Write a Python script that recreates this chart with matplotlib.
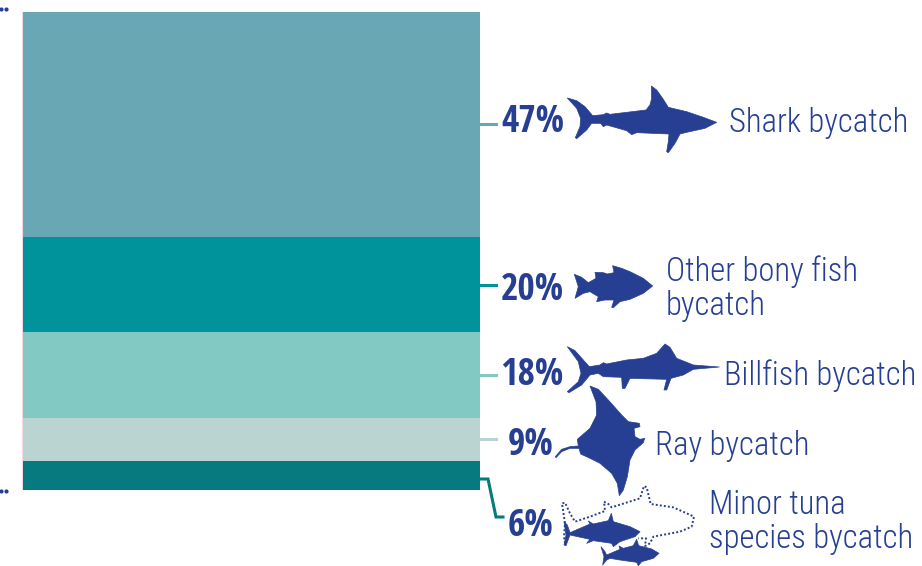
import matplotlib
matplotlib.use("Agg")
import matplotlib.pyplot as plt
from matplotlib.patches import Polygon, Rectangle
from matplotlib import font_manager as fm

W, H = 922, 566
categories = ["Shark bycatch", "Other bony fish\nbycatch", "Billfish bycatch", "Ray bycatch", "Minor tuna\nspecies bycatch"]
values = [47, 20, 18, 9, 6]
pct_labels = ["47%", "20%", "18%", "9%", "6%"]
colors = ["#6AA7B4", "#00939B", "#82C9C3", "#BAD5D1", "#077A80"]
BLUE = "#263F92"

names = {f.name for f in fm.fontManager.ttflist}
def pick(cands):
    for c in cands:
        if c in names:
            return c
    return "Roboto"
bold_font = pick(["Open Sans Condensed", "Roboto Condensed", "Fira Sans Condensed", "Encode Sans Condensed", "Barlow Condensed", "Sofia Sans Condensed", "PT Sans Narrow", "Archivo Narrow", "Liberation Sans Narrow"])
label_font = pick(["Roboto Condensed", "Fira Sans Condensed", "Encode Sans Condensed", "Sofia Sans Condensed", "IBM Plex Sans Condensed", "Barlow Semi Condensed", "Archivo Narrow", "Liberation Sans Narrow"])

fig = plt.figure(figsize=(W / 100, H / 100), dpi=100, facecolor="white")

ax = fig.add_axes([23 / W, 1 - 490 / H, (480 - 23) / W, (490 - 12) / H])
ax.set_xlim(0, 1)
ax.set_ylim(sum(values), 0)
ax.axis("off")
bottom = 0
for v, c in zip(values, colors):
    ax.bar(0.5, v, width=1, bottom=bottom, color=c, linewidth=0)
    bottom += v

ov = fig.add_axes([0, 0, 1, 1])
ov.set_xlim(0, W)
ov.set_ylim(H, 0)
ov.axis("off")
ov.patch.set_alpha(0)

ov.add_patch(Rectangle((22, 12), 1, 478, color="#F3D9E4", lw=0))
for x, y in [(1, 9), (6, 9), (1, 491), (6, 491)]:
    ov.plot([x], [y], "o", ms=3, color=BLUE, mew=0)

lead = [([480, 496], [124, 124]), ([480, 496], [285, 285]), ([480, 496], [375, 375]), ([480, 496], [439, 439]),
        ([480, 488, 496, 503], [479, 479, 517, 517])]
for (xs, ys), c in zip(lead, colors):
    ov.plot(xs, ys, color=c, lw=2.2, solid_joinstyle="miter")

pct_pos = [(501, 122), (501, 290), (500, 375), (508, 445), (508, 526)]
for t, (x, y) in zip(pct_labels, pct_pos):
    ov.text(x, y, t, family=bold_font, weight="bold", fontsize=27, color=BLUE, ha="left", va="center")

lab_pos = [(729, 123), (666, 289), (724, 376), (655, 446), (709, 522)]
for t, (x, y) in zip(categories, lab_pos):
    ov.text(x, y, t, family=label_font, weight="light", fontsize=23.5, color=BLUE, ha="left", va="center",
            linespacing=1.08)

def z(pts, x0, y0):
    return [(x0 + a / 3, y0 + b / 3) for a, b in pts]

shark = [(292,84),(320,92),(345,110),(368,137),(400,134),(410,129),(420,133),(528,120),(540,105),(545,85),(544,48),(560,60),(578,85),(595,112),(650,125),(700,142),(740,157),(705,175),(650,187),(630,192),(615,220),(595,248),(590,245),(595,215),(597,192),(500,188),(485,194),(470,182),(410,165),(400,170),(392,160),(365,160),(350,180),(320,206),(316,203),(330,170),(332,145),(320,115)]
bony = [(313,73),(335,82),(355,98),(378,85),(375,67),(400,68),(412,72),(432,68),(428,47),(455,55),(480,65),(520,85),(548,108),(520,130),(480,148),(450,155),(430,173),(425,172),(432,150),(405,150),(380,155),(385,140),(360,125),(340,130),(315,145),(325,110)]
bill = [(292,290),(315,302),(340,330),(358,350),(390,345),(400,338),(410,342),(470,330),(520,325),(560,310),(585,282),(600,292),(620,325),(670,345),(748,351),(670,358),(640,375),(603,385),(590,420),(582,420),(590,388),(480,385),(465,415),(457,415),(455,382),(400,380),(385,370),(360,375),(335,405),(297,428),(292,425),(325,395),(333,370),(325,335)]
ray = [(150,18),(175,28),(205,60),(245,105),(265,125),(298,130),(300,140),(282,145),(285,170),(300,178),(314,175),(310,188),(285,210),(270,240),(262,290),(250,330),(238,347),(232,310),(215,280),(180,250),(150,235),(122,222),(117,205),(90,205),(65,215),(48,233),(46,230),(65,208),(90,200),(115,198),(112,178),(150,145),(170,105),(168,65)]
tuna1 = [(72,425),(82,435),(90,458),(150,432),(145,423),(160,432),(205,422),(214,400),(220,425),(270,440),(300,455),(285,470),(240,485),(220,500),(215,490),(160,482),(140,490),(150,478),(90,465),(78,497),(72,495),(78,465)]
tuna2 = [(183,500),(195,515),(200,525),(240,508),(237,498),(250,505),(280,497),(290,478),(296,497),(335,507),(357,520),(340,535),(305,545),(295,557),(290,547),(240,540),(210,535),(200,540),(188,555),(192,530)]
dotted = [(75,490),(72,470),(75,430),(66,370),(75,368),(90,400),(105,425),(150,410),(195,393),(192,365),(205,372),(215,382),(300,355),(312,318),(320,322),(332,372),(400,382),(462,410),(455,440),(420,455),(340,470),(330,490),(315,498),(318,475),(295,475)]

for pts, o in [(shark, (470, 70)), (bony, (470, 250)), (bill, (470, 250)), (ray, (540, 380)), (tuna1, (540, 380)), (tuna2, (540, 380))]:
    ov.add_patch(Polygon(z(pts, *o), closed=True, facecolor=BLUE, edgecolor=BLUE, lw=0.5, joinstyle="round"))
d = z(dotted, 540, 380)
ov.plot([p[0] for p in d], [p[1] for p in d], color=BLUE, lw=1.4, linestyle=(0, (1, 1.1)))

fig.savefig("out.png", dpi=100, facecolor="white")
